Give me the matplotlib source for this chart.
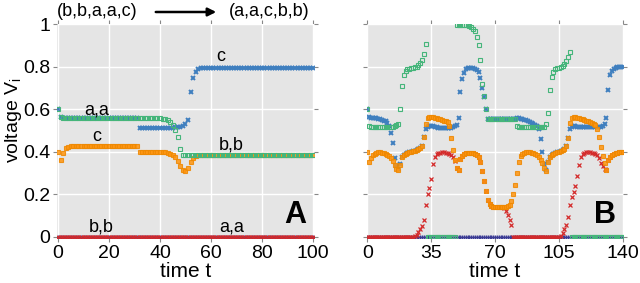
import numpy as np
import matplotlib
matplotlib.use("Agg")
import matplotlib.pyplot as plt

plt.rcParams['font.family'] = ['Liberation Sans', 'DejaVu Sans']

# ---- panel A: time steps 0..100 ----
t_a = np.arange(0, 101)
red_a = [0.0] * 101
purple_a = [0.0] * 101
green_a = ([0.60, 0.565] + [0.557] * 39
           + [0.555, 0.552, 0.548, 0.54, 0.525, 0.50, 0.467, 0.41, 0.385]
           + [0.382] * 51)
blue_a = ([0.60, 0.565] + [0.557] * 30 + [0.513] * 14
          + [0.514, 0.515, 0.517, 0.52, 0.528, 0.55, 0.68, 0.745, 0.775, 0.788, 0.793]
          + [0.795] * 44)
orange_a = ([0.40, 0.362, 0.393, 0.415, 0.423] + [0.428] * 27 + [0.397] * 11
            + [0.394, 0.39, 0.385, 0.375, 0.355, 0.333, 0.312, 0.307, 0.322, 0.35, 0.37, 0.379]
            + [0.382] * 46)

# ---- panel B: time steps 0..140 ----
t_b = np.arange(0, 141)
purple_b = [0.0] * 141
green_b = ([0.60, 0.52] + [0.517] * 13
           + [0.52, 0.525, 0.53, 0.60, 0.71, 0.76, 0.78, 0.787, 0.79, 0.792,
              0.794, 0.796, 0.80, 0.806, 0.815, 0.83, 0.86, 0.904]
           + [0.0] * 16 + [0.995] * 7
           + [0.99, 0.985, 0.978, 0.965, 0.94, 0.90, 0.83, 0.72, 0.66, 0.60]
           + [0.552] * 16 + [0.52] + [0.515] * 15
           + [0.53, 0.58, 0.69, 0.75, 0.775, 0.787, 0.792, 0.795, 0.798, 0.802,
              0.81, 0.825, 0.845, 0.867]
           + [0.0] * 29)
orange_b = [0.40, 0.35, 0.37, 0.383, 0.39, 0.394, 0.396, 0.396, 0.395, 0.393,
            0.39, 0.386, 0.38, 0.37, 0.355, 0.335, 0.318, 0.315, 0.336, 0.375,
            0.385, 0.39, 0.393, 0.396, 0.399, 0.402, 0.405, 0.408, 0.412, 0.418,
            0.426, 0.47, 0.53, 0.558, 0.563, 0.563, 0.562, 0.56, 0.558, 0.555,
            0.552, 0.549, 0.546, 0.543, 0.537, 0.52, 0.465, 0.407, 0.36, 0.325,
            0.312, 0.363, 0.38, 0.387, 0.391, 0.393, 0.394, 0.394, 0.393, 0.39,
            0.385, 0.375, 0.352, 0.31, 0.26, 0.213, 0.173, 0.152, 0.145, 0.14,
            0.14, 0.14, 0.14, 0.14, 0.14, 0.14, 0.14, 0.143, 0.15, 0.166,
            0.20, 0.245, 0.30, 0.35, 0.378, 0.388, 0.393, 0.396, 0.397, 0.396,
            0.395, 0.393, 0.39, 0.385, 0.376, 0.36, 0.347, 0.325, 0.31, 0.35,
            0.375, 0.385, 0.39, 0.393, 0.396, 0.399, 0.402, 0.406, 0.412, 0.425,
            0.465, 0.535, 0.56, 0.563, 0.562, 0.56, 0.558, 0.555, 0.552, 0.549,
            0.546, 0.543, 0.54, 0.536, 0.532, 0.525, 0.505, 0.47, 0.42, 0.38,
            0.345, 0.315, 0.36, 0.375, 0.385, 0.39, 0.393, 0.395, 0.396, 0.397,
            0.397]
blue_b = [0.60, 0.562, 0.56, 0.559, 0.558, 0.556, 0.554, 0.552, 0.549, 0.546,
          0.542, 0.536, 0.52, 0.486, 0.438, 0.37, 0.33, 0.32, 0.34, 0.375,
          0.385, 0.39, 0.393, 0.396, 0.399, 0.402, 0.405, 0.408, 0.412, 0.418,
          0.426, 0.47, 0.505, 0.515, 0.52, 0.522, 0.52, 0.517, 0.515, 0.513,
          0.512, 0.512, 0.512, 0.512, 0.512, 0.512, 0.513, 0.515, 0.518, 0.523,
          0.56, 0.68, 0.74, 0.77, 0.788, 0.792, 0.794, 0.794, 0.793, 0.79,
          0.785, 0.776, 0.745, 0.70, 0.655, 0.60, 0.552, 0.552, 0.552, 0.552,
          0.552, 0.552, 0.552, 0.552, 0.552, 0.552, 0.552, 0.552, 0.552, 0.552,
          0.553, 0.555, 0.557, 0.556, 0.554, 0.552, 0.55, 0.547, 0.544, 0.54,
          0.536, 0.532, 0.527, 0.522, 0.505, 0.457, 0.40, 0.34, 0.315, 0.35,
          0.375, 0.385, 0.39, 0.393, 0.396, 0.399, 0.402, 0.406, 0.412, 0.425,
          0.465, 0.505, 0.515, 0.518, 0.518, 0.517, 0.517, 0.517, 0.517, 0.517,
          0.517, 0.517, 0.517, 0.517, 0.517, 0.517, 0.517, 0.517, 0.517, 0.52,
          0.53, 0.56, 0.69, 0.76, 0.78, 0.79, 0.795, 0.797, 0.798, 0.80,
          0.80]
red_b = ([0.0] * 26
         + [0.003, 0.008, 0.02, 0.035,
            0.05, 0.08, 0.15, 0.20, 0.23, 0.27, 0.34, 0.375, 0.388, 0.393,
            0.395, 0.396, 0.396, 0.395, 0.393, 0.39, 0.385, 0.375, 0.355, 0.325,
            0.312, 0.363, 0.38, 0.387, 0.391, 0.393, 0.394, 0.394, 0.393, 0.39,
            0.385, 0.375, 0.352, 0.31, 0.26, 0.213, 0.173, 0.152, 0.145, 0.14,
            0.14, 0.14, 0.14, 0.14, 0.14, 0.135, 0.12, 0.10, 0.08, 0.055]
         + [0.0] * 26
         + [0.005, 0.015, 0.035, 0.055,
            0.09, 0.15, 0.185, 0.21, 0.24, 0.287, 0.337, 0.375, 0.388, 0.394,
            0.397, 0.397, 0.396, 0.395, 0.393, 0.39, 0.385, 0.37, 0.347, 0.33,
            0.32, 0.315, 0.36, 0.375, 0.385, 0.39, 0.393, 0.395, 0.396, 0.397,
            0.397])

c_red = '#d42a2a'
c_purple = '#3b3b94'
c_blue = '#3f7fbf'
c_orange = '#ff9510'
c_green = '#45b57a'

fig = plt.figure(figsize=(6.4, 2.83), dpi=100)
ax_a = fig.add_axes([0.0895, 0.158, 0.4005, 0.757])
ax_b = fig.add_axes([0.573, 0.158, 0.401, 0.757])


def draw_series(ax, t, purple, red, blue, orange, green):
    ax.plot(t, purple, ls='none', marker='+', ms=3, mew=1, color=c_purple)
    ax.plot(t, red, ls='none', marker='x', ms=3, mew=0.9, color=c_red)
    ax.plot(t, blue, ls='none', marker='x', ms=2.8, mew=1.4, color=c_blue)
    ax.plot(t, orange, ls='none', marker='s', ms=3, mew=0.8,
            mfc=c_orange, mec='#ee8800', alpha=0.85)
    ax.plot(t, green, ls='none', marker='s', ms=3.2, mew=0.8,
            mfc='none', mec=c_green)


def style_axes(ax, xticks, xmax, show_ylabels):
    ax.set_facecolor('#e5e5e5')
    for s in ax.spines.values():
        s.set_visible(False)
    ax.set_xlim(-0.3, xmax + 0.3)
    ax.set_ylim(-0.008, 1.0)
    ax.set_xticks(xticks)
    ax.set_yticks([0, 0.2, 0.4, 0.6, 0.8, 1])
    ax.set_yticklabels(['0', '0.2', '0.4', '0.6', '0.8', '1'] if show_ylabels else [])
    ax.grid(True, color='white', lw=1)
    ax.set_axisbelow(True)
    ax.tick_params(direction='out', length=3, width=0.8, color='#888888',
                   labelsize=14, top=True, right=True, pad=2)
    ax.set_xlabel('time t', fontsize=15, labelpad=0)


draw_series(ax_a, t_a, purple_a, red_a, blue_a, orange_a, green_a)
draw_series(ax_b, t_b, purple_b, red_b, blue_b, orange_b, green_b)
style_axes(ax_a, [0, 20, 40, 60, 80, 100], 100, True)
style_axes(ax_b, [0, 35, 70, 105, 140], 140, False)
ax_a.set_ylabel(r'voltage V$_\mathregular{i}$', fontsize=14)
ax_a.yaxis.set_label_coords(-0.13, 0.55)

# state labels in panel A
for x, y, s in [(15, 0.595, 'a,a'), (15, 0.47, 'c'), (64, 0.845, 'c'),
                (68, 0.43, 'b,b'), (17, 0.045, 'b,b'), (68, 0.045, 'a,a')]:
    ax_a.text(x, y, s, fontsize=13, ha='center', va='center')

ax_a.text(0.97, 0.04, 'A', transform=ax_a.transAxes, fontsize=22,
          fontweight='bold', ha='right', va='bottom')
ax_b.text(0.97, 0.04, 'B', transform=ax_b.transAxes, fontsize=22,
          fontweight='bold', ha='right', va='bottom')

# transition annotation on top
fig.text(57 / 640, 1 - 11 / 283, '(b,b,a,a,c)', fontsize=13, ha='left', va='center')
fig.text(229 / 640, 1 - 11 / 283, '(a,a,c,b,b)', fontsize=13, ha='left', va='center')
fig.add_artist(matplotlib.patches.FancyArrowPatch(
    (153 / 640, 1 - 12 / 283), (219 / 640, 1 - 12 / 283),
    transform=fig.transFigure, arrowstyle='-|>', mutation_scale=12,
    color='black', lw=1.8))

fig.savefig('out.png', dpi=100)
